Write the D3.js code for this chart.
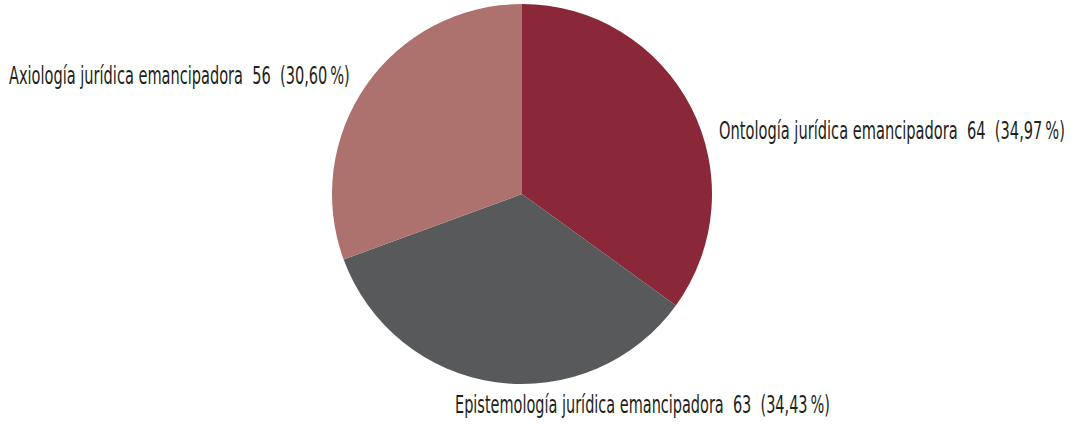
<!DOCTYPE html>
<html><head><meta charset="utf-8">
<script src="https://cdn.jsdelivr.net/npm/d3@7"></script>
<style>body{margin:0;background:#fff}svg{display:block}</style>
</head><body>
<svg id="chart" width="1077" height="424"></svg>
<script>
const categories = ["Ontología jurídica emancipadora", "Epistemología jurídica emancipadora", "Axiología jurídica emancipadora"];
const values = [64, 63, 56];
const percentLabels = ["34,97", "34,43", "30,60"];
const colors = ["#8a2739", "#58595b", "#ad716e"];

const svg = d3.select("#chart");
const cx = 522, cy = 194, r = 190;
const g = svg.append("g").attr("transform", `translate(${cx},${cy})`);
const pie = d3.pie().sort(null).value(d => d)(values);
const arc = d3.arc().innerRadius(0).outerRadius(r);
g.selectAll("path").data(pie).enter().append("path")
  .attr("d", arc).attr("fill", (d, i) => colors[i]);

const labelPos = [
  {x: 719, y: 139, w: 346},
  {x: 455, y: 413, w: 375},
  {x: 9, y: 84, w: 341}
];
const font = "'DejaVu Sans Condensed','DejaVu Sans',sans-serif";
categories.forEach((c, i) => {
  const lg = svg.append("g");
  const t = lg.append("text")
    .attr("x", 0).attr("y", 0)
    .attr("font-family", font).attr("font-size", 25)
    .style("font-stretch", "condensed")
    .attr("fill", "#231f20")
    .style("white-space", "pre")
    .text(`${c}  ${values[i]}  (${percentLabels[i]}\u2009%)`);
  const nat = t.node().getComputedTextLength();
  const sx = labelPos[i].w / nat;
  lg.attr("transform", `translate(${labelPos[i].x},${labelPos[i].y}) scale(${sx},1)`);
});
</script>
</body></html>
